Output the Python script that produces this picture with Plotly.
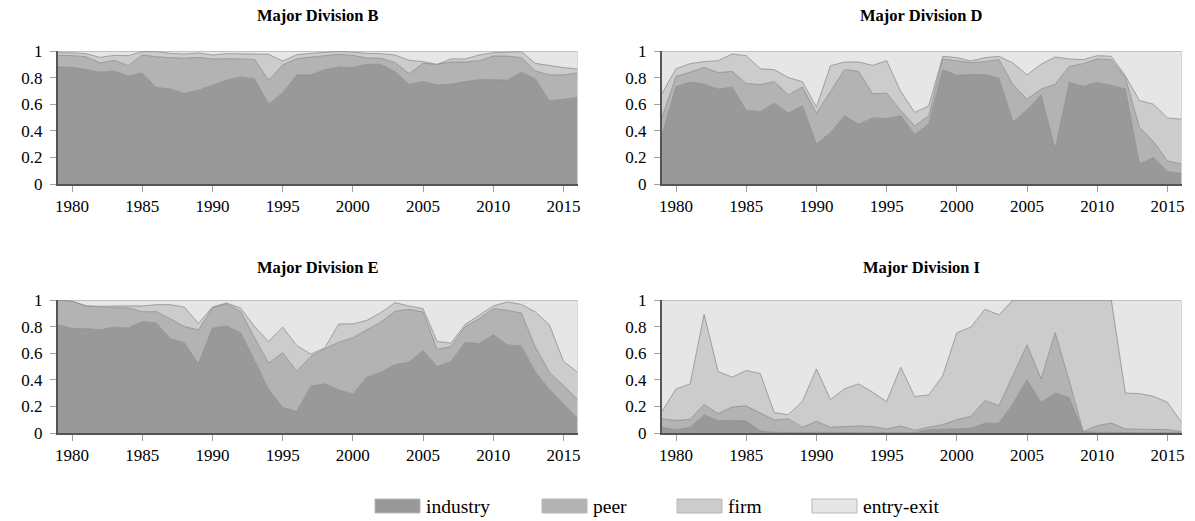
import plotly.graph_objects as go

years = list(range(1979, 2017))
tick_years = [1980, 1985, 1990, 1995, 2000, 2005, 2010, 2015]
y_ticks = [0, 0.2, 0.4, 0.6, 0.8, 1]
series_names = ["industry", "peer", "firm", "entry-exit"]
panel_titles = ["Major Division B", "Major Division D", "Major Division E", "Major Division I"]

# ---- Major Division B ----
B_industry = [0.88, 0.877, 0.86, 0.84, 0.85, 0.81, 0.835, 0.725, 0.715, 0.68, 0.705, 0.74, 0.78, 0.805, 0.79,
              0.60, 0.685, 0.82, 0.82, 0.86, 0.88, 0.875, 0.90, 0.90, 0.845, 0.75, 0.77, 0.745, 0.75, 0.77,
              0.785, 0.785, 0.78, 0.84, 0.79, 0.625, 0.64, 0.65]
B_peer = [0.087, 0.088, 0.097, 0.07, 0.08, 0.08, 0.135, 0.232, 0.235, 0.265, 0.247, 0.20, 0.162, 0.137, 0.147,
          0.18, 0.21, 0.122, 0.135, 0.105, 0.095, 0.092, 0.047, 0.045, 0.069, 0.08, 0.137, 0.155, 0.167, 0.147,
          0.142, 0.177, 0.182, 0.11, 0.06, 0.195, 0.18, 0.186]
B_firm = [0.02, 0.022, 0.023, 0.042, 0.037, 0.075, 0.025, 0.038, 0.032, 0.032, 0.033, 0.03, 0.038, 0.038, 0.043,
          0.195, 0.03, 0.03, 0.027, 0.025, 0.022, 0.025, 0.035, 0.035, 0.056, 0.10, 0.013, 0.0, 0.023, 0.023,
          0.043, 0.025, 0.028, 0.045, 0.057, 0.07, 0.055, 0.029]
B_entry_exit = [0.013, 0.013, 0.02, 0.048, 0.033, 0.035, 0.005, 0.005, 0.018, 0.023, 0.015, 0.03, 0.02, 0.02, 0.02,
                0.025, 0.075, 0.028, 0.018, 0.01, 0.003, 0.008, 0.018, 0.02, 0.03, 0.07, 0.08, 0.10, 0.06, 0.06,
                0.03, 0.013, 0.01, 0.005, 0.093, 0.11, 0.125, 0.135]

# ---- Major Division D ----
D_industry = [0.37, 0.733, 0.766, 0.75, 0.713, 0.728, 0.553, 0.545, 0.608, 0.533, 0.588, 0.30, 0.387, 0.513, 0.45,
              0.497, 0.492, 0.513, 0.374, 0.452, 0.86, 0.817, 0.824, 0.822, 0.797, 0.467, 0.558, 0.67, 0.264, 0.764,
              0.734, 0.764, 0.741, 0.714, 0.15, 0.20, 0.093, 0.08]
D_peer = [0.13, 0.077, 0.074, 0.127, 0.124, 0.119, 0.203, 0.201, 0.161, 0.137, 0.141, 0.233, 0.309, 0.347, 0.397,
          0.181, 0.191, 0.04, 0.063, 0.061, 0.08, 0.108, 0.088, 0.098, 0.138, 0.279, 0.08, 0.044, 0.486, 0.12,
          0.171, 0.176, 0.194, 0.086, 0.277, 0.12, 0.08, 0.07]
D_firm = [0.18, 0.057, 0.065, 0.043, 0.09, 0.13, 0.209, 0.121, 0.09, 0.13, 0.04, 0.045, 0.193, 0.057, 0.07,
          0.214, 0.244, 0.143, 0.101, 0.075, 0.02, 0.025, 0.013, 0.03, 0.025, 0.164, 0.182, 0.186, 0.205, 0.056,
          0.03, 0.025, 0.025, 0.014, 0.201, 0.28, 0.324, 0.337]
D_entry_exit = [0.32, 0.133, 0.095, 0.08, 0.073, 0.023, 0.035, 0.133, 0.141, 0.20, 0.231, 0.422, 0.111, 0.083, 0.083,
                0.108, 0.073, 0.304, 0.462, 0.412, 0.04, 0.05, 0.075, 0.05, 0.04, 0.09, 0.18, 0.10, 0.045, 0.06,
                0.065, 0.035, 0.04, 0.186, 0.372, 0.40, 0.503, 0.513]

# ---- Major Division E ----
E_industry = [0.814, 0.786, 0.784, 0.776, 0.796, 0.789, 0.837, 0.827, 0.709, 0.678, 0.52, 0.789, 0.804, 0.754, 0.545,
              0.327, 0.193, 0.161, 0.352, 0.37, 0.324, 0.294, 0.42, 0.457, 0.513, 0.533, 0.62, 0.50, 0.538, 0.683,
              0.671, 0.739, 0.663, 0.653, 0.457, 0.327, 0.219, 0.11]
E_peer = [0.186, 0.206, 0.168, 0.174, 0.146, 0.151, 0.075, 0.085, 0.15, 0.122, 0.256, 0.151, 0.168, 0.161, 0.171,
          0.198, 0.41, 0.306, 0.223, 0.263, 0.359, 0.422, 0.356, 0.377, 0.402, 0.397, 0.29, 0.128, 0.112, 0.117,
          0.189, 0.196, 0.259, 0.249, 0.189, 0.13, 0.138, 0.141]
E_firm = [0.0, 0.0, 0.005, 0.002, 0.013, 0.017, 0.043, 0.053, 0.106, 0.147, 0.048, 0.007, 0.005, 0.025, 0.084,
          0.163, 0.193, 0.191, 0.018, 0.007, 0.137, 0.104, 0.071, 0.071, 0.065, 0.025, 0.025, 0.06, 0.026, 0.017,
          0.024, 0.02, 0.063, 0.065, 0.264, 0.357, 0.183, 0.206]
E_entry_exit = [0.0, 0.008, 0.043, 0.048, 0.045, 0.043, 0.045, 0.035, 0.035, 0.053, 0.176, 0.053, 0.023, 0.06, 0.20,
                0.312, 0.204, 0.342, 0.407, 0.36, 0.18, 0.18, 0.153, 0.095, 0.02, 0.045, 0.065, 0.312, 0.324, 0.183,
                0.116, 0.045, 0.015, 0.033, 0.09, 0.186, 0.46, 0.543]

# ---- Major Division I ----
I_industry = [0.043, 0.025, 0.043, 0.136, 0.093, 0.095, 0.09, 0.015, 0.005, 0.003, 0.003, 0.005, 0.003, 0.003, 0.003,
              0.003, 0.003, 0.005, 0.003, 0.025, 0.03, 0.03, 0.035, 0.073, 0.073, 0.22, 0.40, 0.23, 0.30, 0.266,
              0.01, 0.005, 0.003, 0.003, 0.003, 0.003, 0.003, 0.003]
I_peer = [0.063, 0.07, 0.06, 0.078, 0.053, 0.101, 0.114, 0.136, 0.093, 0.103, 0.04, 0.083, 0.04, 0.045, 0.05,
          0.045, 0.027, 0.048, 0.017, 0.018, 0.033, 0.07, 0.091, 0.171, 0.133, 0.215, 0.263, 0.177, 0.454, 0.128,
          0.0, 0.05, 0.072, 0.027, 0.027, 0.027, 0.022, 0.007]
I_firm = [0.057, 0.237, 0.266, 0.678, 0.316, 0.224, 0.266, 0.296, 0.055, 0.032, 0.196, 0.394, 0.208, 0.284, 0.316,
          0.259, 0.206, 0.442, 0.254, 0.243, 0.369, 0.654, 0.67, 0.686, 0.683, 0.565, 0.337, 0.593, 0.246, 0.606,
          0.99, 0.945, 0.925, 0.27, 0.266, 0.246, 0.206, 0.07]
I_entry_exit = [0.837, 0.668, 0.631, 0.108, 0.538, 0.58, 0.53, 0.553, 0.847, 0.862, 0.761, 0.518, 0.749, 0.668, 0.631,
                0.693, 0.764, 0.505, 0.726, 0.714, 0.568, 0.246, 0.204, 0.07, 0.111, 0.0, 0.0, 0.0, 0.0, 0.0,
                0.0, 0.0, 0.0, 0.70, 0.704, 0.724, 0.769, 0.92]

panels_data = [
    [B_industry, B_peer, B_firm, B_entry_exit],
    [D_industry, D_peer, D_firm, D_entry_exit],
    [E_industry, E_peer, E_firm, E_entry_exit],
    [I_industry, I_peer, I_firm, I_entry_exit],
]

fill_colors = ["#999999", "#b3b3b3", "#cccccc", "#e6e6e6"]
line_color = "#8c8c8c"
SERIF = "Liberation Serif"

W, H = 1195, 521


def px_x(v):
    return v / W


def px_y(v):
    return 1 - v / H


x_doms = [[px_x(58), px_x(577.5)], [px_x(662), px_x(1181.5)]]
y_doms = [[px_y(184), px_y(51)], [px_y(433), px_y(300)]]
title_y = [15, 267]

fig = go.Figure()

for p, series in enumerate(panels_data):
    ax = "" if p == 0 else str(p + 1)
    for s, (name, vals) in enumerate(zip(series_names, series)):
        fig.add_trace(go.Scatter(
            x=years, y=vals, name=name, mode="lines",
            stackgroup="g" + str(p), fillcolor=fill_colors[s],
            line=dict(color=line_color, width=0.8),
            xaxis="x" + ax, yaxis="y" + ax,
            legendgroup=name, showlegend=False, hoverinfo="skip",
        ))

layout = dict(
    width=W, height=H,
    paper_bgcolor="white", plot_bgcolor="white",
    margin=dict(l=0, r=0, t=0, b=0, autoexpand=False),
    showlegend=False, hovermode=False, dragmode=False,
    annotations=[], shapes=[],
)

for p in range(4):
    ax = "" if p == 0 else str(p + 1)
    col = p % 2
    row = p // 2
    layout["xaxis" + ax] = dict(
        domain=x_doms[col], anchor="y" + ax, range=[1979, 2016], fixedrange=True,
        tickvals=tick_years, ticks="outside", ticklen=6, tickcolor="#a0a0a0", tickwidth=1,
        showline=True, linecolor="#555555", linewidth=2, showgrid=False, zeroline=False,
        tickfont=dict(family=SERIF, size=17, color="black"), ticklabelstandoff=0,
    )
    layout["yaxis" + ax] = dict(
        domain=y_doms[row], anchor="x" + ax, range=[0, 1], fixedrange=True,
        tickvals=y_ticks, ticks="outside", ticklen=6, tickcolor="#a0a0a0", tickwidth=1,
        showline=True, linecolor="#555555", linewidth=2, showgrid=False, zeroline=False,
        tickfont=dict(family=SERIF, size=17, color="black"), ticklabelstandoff=4,
    )
    layout["annotations"].append(dict(
        text="<b>" + panel_titles[p] + "</b>", xref="paper", yref="paper",
        x=sum(x_doms[col]) / 2, y=px_y(title_y[row]),
        xanchor="center", yanchor="middle", showarrow=False,
        font=dict(family=SERIF, size=16.5, color="black"),
    ))
    layout["shapes"].append(dict(
        type="line", xref="x" + ax, yref="y" + ax, x0=2016, x1=2016, y0=0, y1=1,
        line=dict(color="#b5b5b5", width=1),
    ))

# legend keys (swatch + label) along the bottom
legend_x = [375, 542, 677, 812]
for s, name in enumerate(series_names):
    x0 = legend_x[s]
    layout["shapes"].append(dict(
        type="rect", xref="paper", yref="paper",
        x0=px_x(x0), x1=px_x(x0 + 45), y0=px_y(513), y1=px_y(499),
        fillcolor=fill_colors[s], line=dict(color="#b8b8b8", width=1),
    ))
    layout["annotations"].append(dict(
        text=name, xref="paper", yref="paper",
        x=px_x(x0 + 49), y=px_y(506), xanchor="left", yanchor="middle", showarrow=False,
        font=dict(family=SERIF, size=19.5, color="black"),
    ))

fig.update_layout(**layout)
fig.write_html("out.html", config={"displayModeBar": False},
               post_script="document.body.style.margin='0px';")
